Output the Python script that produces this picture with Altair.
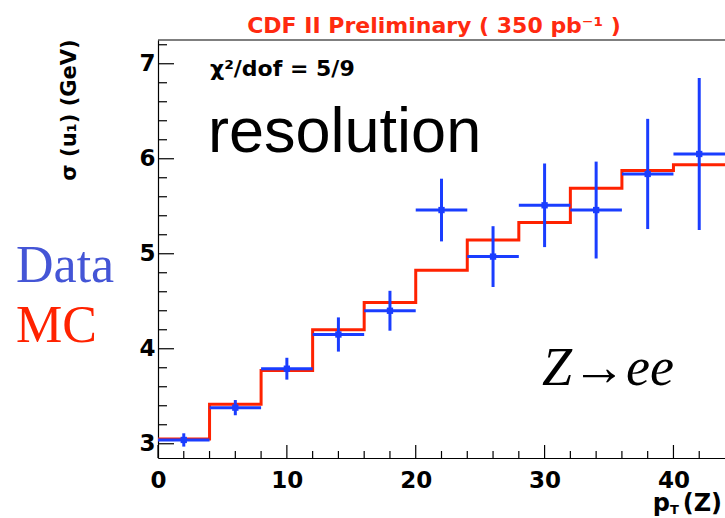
import altair as alt
import pandas as pd

# ---- data ----
bin_centers = [2, 6, 10, 14, 18, 22, 26, 30, 34, 38, 42]
bin_lo = [0, 4, 8, 12, 16, 20, 24, 28, 32, 36, 40]
bin_hi = [4, 8, 12, 16, 20, 24, 28, 32, 36, 40, 44]
data_y = [3.04, 3.38, 3.79, 4.15, 4.40, 5.46, 4.97, 5.51, 5.46, 5.84, 6.05]
data_err = [0.07, 0.08, 0.115, 0.18, 0.21, 0.33, 0.32, 0.44, 0.51, 0.58, 0.80]
mc_y = [3.05, 3.415, 3.77, 4.20, 4.486, 4.826, 5.145, 5.33, 5.69, 5.876, 5.936]

x_major = [0, 10, 20, 30, 40]
x_minor = [2, 4, 6, 8, 12, 14, 16, 18, 22, 24, 26, 28, 32, 34, 36, 38, 42]
y_major = [3, 4, 5, 6, 7]
y_minor = [3.2, 3.4, 3.6, 3.8, 4.2, 4.4, 4.6, 4.8, 5.2, 5.4, 5.6, 5.8,
           6.2, 6.4, 6.6, 6.8, 7.2]

title_text = ["CDF II Preliminary ( 350 pb⁻¹ )"]
chi_text = ["χ²/dof = 5/9"]
big_text = ["resolution"]
data_label = ["Data"]
mc_label = ["MC"]
proc_text = ["Z→ee"]
ytitle = ["σ (u₁) (GeV)"]
xtitle_p = ["p"]
xtitle_sub = ["T"]
xtitle_rest = ["(Z)"]

W, H = 567, 418
BLUE = "#1a3dff"
RED = "#ff2200"
BOLD = "DejaVu Sans"

xs = alt.Scale(domain=[0, 44], nice=False, zero=False)
ys = alt.Scale(domain=[2.85, 7.25], nice=False, zero=False)
ax_x = alt.Axis(values=x_major, title=None, ticks=False, grid=False, domain=True,
                domainColor="black", domainWidth=1.2, labelFont=BOLD, labelFontWeight="bold",
                labelFontSize=23, labelColor="black", labelPadding=11, format="d",
                labelFlush=False, labelOverlap=False)
ax_y = alt.Axis(values=y_major, title=None, ticks=False, grid=False, domain=True,
                domainColor="black", domainWidth=1.2, labelFont=BOLD, labelFontWeight="bold",
                labelFontSize=23, labelColor="black", labelPadding=3, format="d",
                labelFlush=False, labelOverlap=False)

pts = pd.DataFrame({"x": bin_centers, "xlo": bin_lo, "xhi": bin_hi,
                    "y": data_y, "err": data_err})
pts["ylo"] = pts["y"] - pts["err"]
pts["yhi"] = pts["y"] + pts["err"]

mc = pd.DataFrame({"x": bin_lo + [bin_hi[-1]], "y": mc_y + [mc_y[-1]]})

mc_line = alt.Chart(mc).mark_line(interpolate="step-after", color=RED, strokeWidth=3).encode(
    x=alt.X("x:Q", scale=xs, axis=ax_x),
    y=alt.Y("y:Q", scale=ys, axis=ax_y),
)

hbar = alt.Chart(pts).mark_rule(color=BLUE, strokeWidth=3).encode(
    x=alt.X("xlo:Q", scale=xs, axis=ax_x), x2="xhi:Q",
    y=alt.Y("y:Q", scale=ys, axis=ax_y),
)
vbar = alt.Chart(pts).mark_rule(color=BLUE, strokeWidth=3).encode(
    x=alt.X("x:Q", scale=xs, axis=ax_x),
    y=alt.Y("ylo:Q", scale=ys, axis=ax_y), y2="yhi:Q",
)
marker = alt.Chart(pts).mark_square(color=BLUE, size=40, opacity=1).encode(
    x=alt.X("x:Q", scale=xs, axis=ax_x),
    y=alt.Y("y:Q", scale=ys, axis=ax_y),
)

def xticks(vals, length):
    return alt.Chart(pd.DataFrame({"v": vals})).mark_rule(color="black", strokeWidth=1.2).encode(
        x=alt.X("v:Q", scale=xs, axis=ax_x), y=alt.value(H), y2=alt.value(H - length))

def yticks(vals, length):
    return alt.Chart(pd.DataFrame({"v": vals})).mark_rule(color="black", strokeWidth=1.2).encode(
        y=alt.Y("v:Q", scale=ys, axis=ax_y), x=alt.value(0), x2=alt.value(length))

top_line = alt.Chart(pd.DataFrame({"a": [0]})).mark_rule(color="black", strokeWidth=1.2).encode(
    x=alt.value(0), x2=alt.value(W), y=alt.value(0))

def label(txt, x, y, size, color="black", font=BOLD, weight="bold", style="normal",
          align="left", angle=0, baseline="alphabetic"):
    return alt.Chart(pd.DataFrame({"t": txt})).mark_text(
        font=font, fontSize=size, fontWeight=weight, fontStyle=style, color=color,
        align=align, baseline=baseline, angle=angle
    ).encode(text="t:N", x=alt.value(x), y=alt.value(y))

texts = [
    label(title_text, 276, -7, 22, color="#ff2a10", align="center"),
    label(chi_text, 52, 36, 22),
    label(big_text, 50, 112, 63, font="Liberation Sans", weight="normal"),
    label(data_label, -142, 242, 52, color="#4455d6", font="Liberation Serif", weight="normal"),
    label(mc_label, -142, 302, 52, color=RED, font="Liberation Serif", weight="normal"),
    label(proc_text, 384, 345, 54, font="Liberation Serif", weight="normal", style="italic"),
    label(ytitle, -88, 70, 21, align="center", angle=270, baseline="middle"),
    label(xtitle_p, 512, 471, 24, align="right"),
    label(xtitle_sub, 512, 474, 13),
    label(xtitle_rest, 564, 471, 24, align="right"),
]

chart = alt.layer(
    mc_line, hbar, vbar, marker,
    xticks(x_major, 13), xticks(x_minor, 7),
    yticks(y_major, 16), yticks(y_minor, 9),
    top_line, *texts
).properties(
    width=W, height=H,
    autosize=alt.AutoSizeParams(type="none"),
    padding={"left": 158, "top": 40, "right": 0, "bottom": 60},
    background="white",
).configure_view(stroke=None)

chart.save("out.html", embed_options={"renderer": "svg", "actions": False})
